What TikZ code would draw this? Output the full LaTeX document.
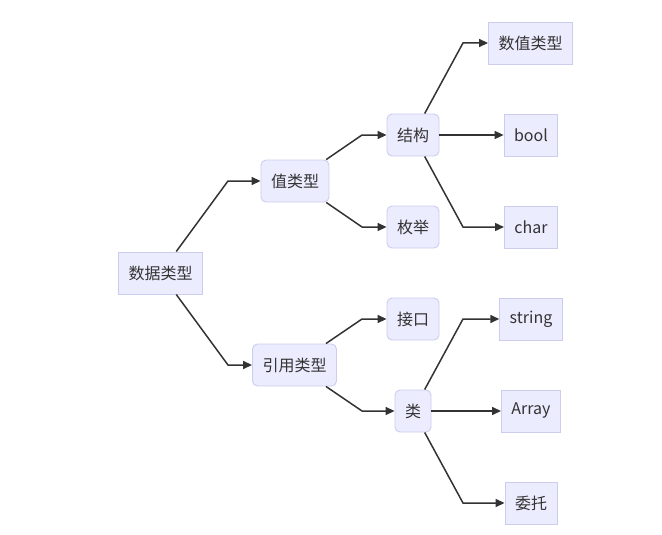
\documentclass[tikz,border=0pt]{standalone}
\usepackage{fontspec}
\setmainfont{Noto Sans CJK SC}
\usetikzlibrary{arrows.meta}

\definecolor{boxfill}{HTML}{ECECFF}
\definecolor{boxline}{HTML}{CCCCEE}
\definecolor{ink}{HTML}{333333}

\tikzset{
	leaf/.style={draw=boxline, fill=boxfill, text=ink, line width=0.9pt,
		minimum height=42pt, inner xsep=10pt, font=\fontsize{16}{18}\selectfont},
	inner/.style={leaf, rounded corners=5pt},
}

\begin{document}
\begin{tikzpicture}[x=1pt, y=-1pt, >={Triangle[length=9pt,width=8pt]}]

	\useasboundingbox (0,0) rectangle (662,535);

	% === NODES === (((
	\node [leaf]  (root)   at (160.5,273) {数据类型};
	\node [inner] (val)    at (295,181)   {值类型};
	\node [inner] (ref)    at (294.5,365) {引用类型};
	\node [inner] (struct) at (413,135)   {结构};
	\node [inner] (enum)   at (413,227)   {枚举};
	\node [inner] (iface)  at (413,319)   {接口};
	\node [inner] (cls)    at (413,411)   {类};
	\node [leaf]  (num)    at (530.5,43)  {数值类型};
	\node [leaf]  (bool)   at (531,135)   {bool};
	\node [leaf]  (char)   at (531,227)   {char};
	\node [leaf]  (str)    at (531,319)   {string};
	\node [leaf]  (arr)    at (531,411)   {Array};
	\node [leaf]  (deleg)  at (531,503)   {委托};
	% )))

	% === EDGES === (((
	\coordinate (b1) at (228,0);
	\coordinate (b2) at (362,0);
	\coordinate (b3) at (463,0);
	\foreach \from/\to/\col in {root/val/b1, root/ref/b1,
		val/struct/b2, val/enum/b2, ref/iface/b2, ref/cls/b2,
		struct/num/b3, struct/bool/b3, struct/char/b3,
		cls/str/b3, cls/arr/b3, cls/deleg/b3}
		\draw [->, ink, line width=1.5pt] (\from) -- (\to -| \col) -- (\to);
	% )))

\end{tikzpicture}
\end{document}
